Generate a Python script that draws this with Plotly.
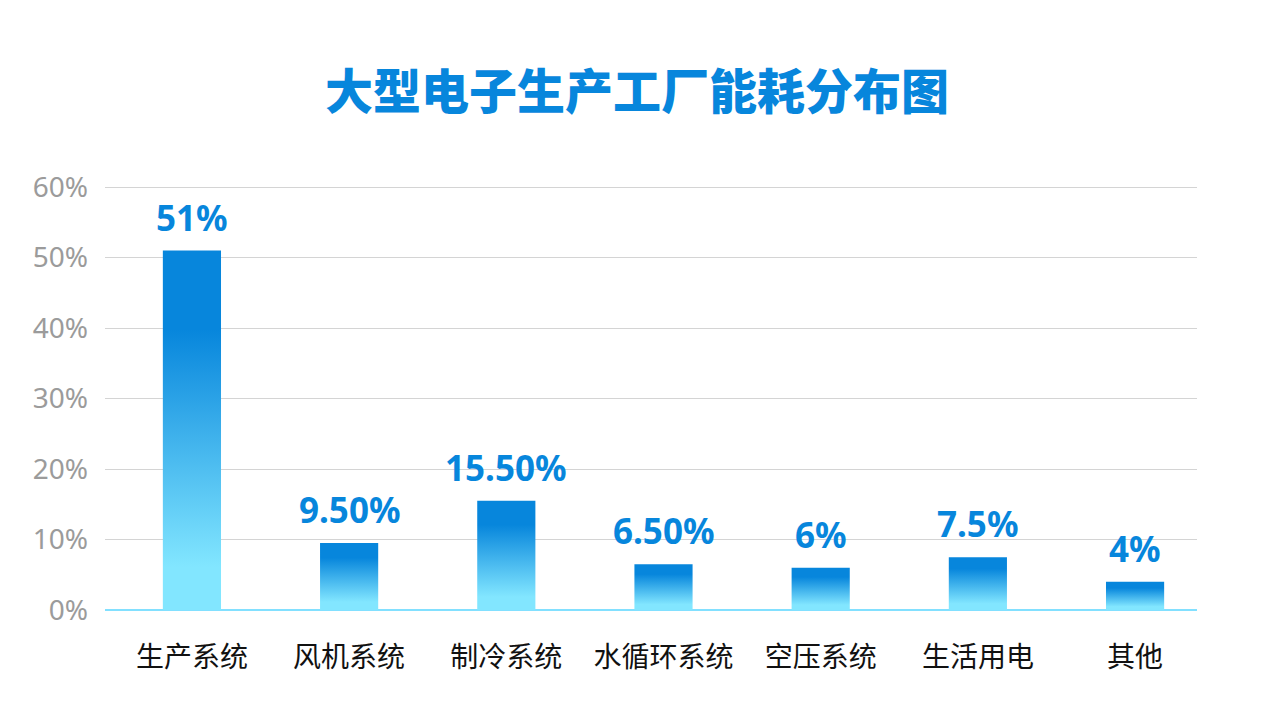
import plotly.graph_objects as go

# 数据
categories = ["生产系统", "风机系统", "制冷系统", "水循环系统", "空压系统", "生活用电", "其他"]
values = [51, 9.5, 15.5, 6.5, 6, 7.5, 4]
value_labels = ["51%", "9.50%", "15.50%", "6.50%", "6%", "7.5%", "4%"]
y_ticks = [0, 10, 20, 30, 40, 50, 60]

blue = "#0786DC"
light = "#82E6FF"
half_w = 0.185

fig = go.Figure()

# gradient bars: one filled shape per category
for i, v in enumerate(values):
    fig.add_trace(go.Scatter(
        x=[i - half_w, i - half_w, i + half_w, i + half_w],
        y=[0, v, v, 0],
        mode="lines",
        line=dict(width=0),
        fill="toself",
        fillgradient=dict(
            type="vertical",
            colorscale=[[0, light], [0.12, light], [0.78, blue], [1, blue]],
        ),
        hoverinfo="skip",
        showlegend=False,
    ))

# value labels above the bars
for i, (v, lab) in enumerate(zip(values, value_labels)):
    fig.add_annotation(
        x=i, y=v, text=lab,
        showarrow=False,
        yanchor="bottom",
        yshift=8,
        font=dict(size=35, color=blue, family="Noto Sans, Noto Sans CJK SC", weight="bold"),
    )

# page body has an 8px margin, so the margins are shifted to match
fig.update_layout(
    width=1280,
    height=720,
    paper_bgcolor="white",
    plot_bgcolor="white",
    margin=dict(l=97, r=91, t=177, b=118),
    title=dict(
        text="大型电子生产工厂能耗分布图",
        x=0.4915,
        xanchor="center",
        y=0.883,
        yanchor="middle",
        font=dict(size=48, color=blue, family="Noto Sans CJK SC", weight=900),
    ),
    font=dict(family="Noto Sans CJK SC"),
)

fig.update_xaxes(
    range=[-0.553, 6.394],
    tickvals=list(range(len(categories))),
    ticktext=categories,
    tickfont=dict(size=28, color="#111111", family="Noto Sans CJK SC"),
    showgrid=False,
    zeroline=False,
    showline=False,
    ticks="",
    ticklabelstandoff=28,
)

fig.update_yaxes(
    range=[0, 60.3],
    tickvals=y_ticks,
    ticktext=[f"{t}%" for t in y_ticks],
    tickfont=dict(size=28, color="#9B9B9B", family="Noto Sans"),
    showgrid=True,
    gridcolor="#D4D4D4",
    gridwidth=1,
    zeroline=True,
    zerolinecolor="#82E0FF",
    zerolinewidth=2,
    ticklabelstandoff=16,
)

fig.write_html("out.html")
